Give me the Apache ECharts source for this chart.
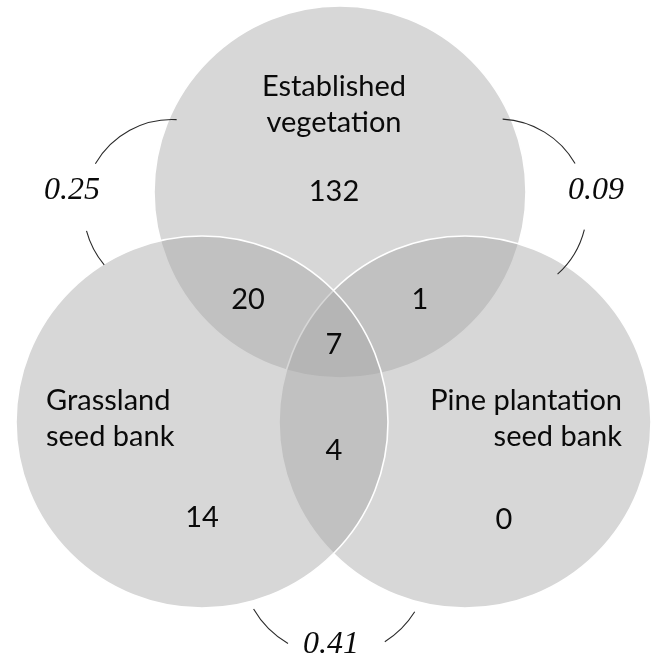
<!DOCTYPE html>
<html><head><meta charset="utf-8">
<script src="https://cdn.jsdelivr.net/npm/echarts@6/dist/echarts.min.js"></script>
<style>html,body{margin:0;padding:0;background:#fff}#c{width:653px;height:663px}</style>
</head><body><div id="c"></div><script>
// ---- data ----
const setNames = ['Established\nvegetation', 'Grassland\nseed bank', 'Pine plantation\nseed bank'];
const regionNames = ['EV only', 'GS only', 'PS only', 'EV∩GS', 'EV∩PS', 'GS∩PS', 'EV∩GS∩PS'];
const regionCounts = [132, 14, 0, 20, 1, 4, 7];
const pairNames = ['EV–GS', 'EV–PS', 'GS–PS'];
const pairSimilarity = ['0.25', '0.09', '0.41'];

// ---- layout (chart units) ----
const circleCenters = [[340, 192], [202, 422], [465, 422]];
const circleRadius = 186;
const drawOrder = [0, 2, 1];
const regionLabelPos = [[334, 192], [202, 518], [504, 520], [248, 300], [420, 300], [334, 451], [334, 345]];
const setLabelPos = [[334, 105], [46, 419], [622, 419]];
const setLabelAlign = ['center', 'left', 'right'];
const simLabelPos = [[72, 191], [596, 191], [331, 645]];
const arcCenters = [[172, 208], [498, 208], [335, 562]];
const arcRadii = [88.5, 89, 94];
const arcSpans = [[[87, 150], [195, 220]], [[30, 87], [-48, -14]], [[210, 240], [302, 328]]];

const SANS = 'Lato, "Open Sans", sans-serif';
const SERIF = '"Liberation Serif", "DejaVu Serif", serif';

const circleData = drawOrder.map(i => [circleCenters[i][0], circleCenters[i][1], circleRadius, i]);
const arcData = [];
arcSpans.forEach((spans, i) => spans.forEach(s => arcData.push([arcCenters[i][0], arcCenters[i][1], arcRadii[i], s[0], s[1]])));

const textData = [];
regionCounts.forEach((v, i) => textData.push({ value: [regionLabelPos[i][0], regionLabelPos[i][1]], text: String(v), font: SANS, size: 29, style: 'normal', align: 'center' }));
setNames.forEach((v, i) => textData.push({ value: [setLabelPos[i][0], setLabelPos[i][1]], text: v, font: SANS, size: 29, style: 'normal', align: setLabelAlign[i] }));
pairSimilarity.forEach((v, i) => textData.push({ value: [simLabelPos[i][0], simLabelPos[i][1]], text: v, font: SERIF, size: 32, style: 'italic', align: 'center' }));

const chart = echarts.init(document.getElementById('c'), null, { renderer: 'canvas' });
chart.setOption({
  backgroundColor: '#fff',
  animation: false,
  grid: { left: 0, right: 0, top: 0, bottom: 0 },
  xAxis: { type: 'value', min: 0, max: 653, show: false },
  yAxis: { type: 'value', min: 0, max: 663, inverse: true, show: false },
  series: [
    {
      type: 'custom', silent: true, z: 1,
      data: circleData,
      renderItem: (params, api) => {
        const p = api.coord([api.value(0), api.value(1)]);
        const r = api.size([api.value(2), 0])[0];
        return { type: 'circle', shape: { cx: p[0], cy: p[1], r: r },
          style: { fill: 'rgba(168,168,168,0.46)', stroke: '#ffffff', lineWidth: 1.6 } };
      }
    },
    {
      type: 'custom', silent: true, z: 2,
      data: arcData,
      renderItem: (params, api) => {
        const p = api.coord([api.value(0), api.value(1)]);
        const r = api.size([api.value(2), 0])[0];
        const a1 = api.value(3), a2 = api.value(4);
        return { type: 'arc', shape: { cx: p[0], cy: p[1], r: r, startAngle: -a2 * Math.PI / 180, endAngle: -a1 * Math.PI / 180, clockwise: true },
          style: { stroke: '#2a2a2a', lineWidth: 1.1, fill: null } };
      }
    },
    {
      type: 'custom', silent: true, z: 3,
      data: textData,
      renderItem: (params, api) => {
        const d = textData[params.dataIndex];
        const p = api.coord([api.value(0), api.value(1)]);
        return { type: 'text', x: p[0], y: p[1],
          style: { text: d.text, fontFamily: d.font, fontSize: d.size, fontStyle: d.style, fill: '#0a0a0a',
            align: d.align, verticalAlign: 'middle', lineHeight: 36 } };
      }
    }
  ]
});
</script></body></html>
